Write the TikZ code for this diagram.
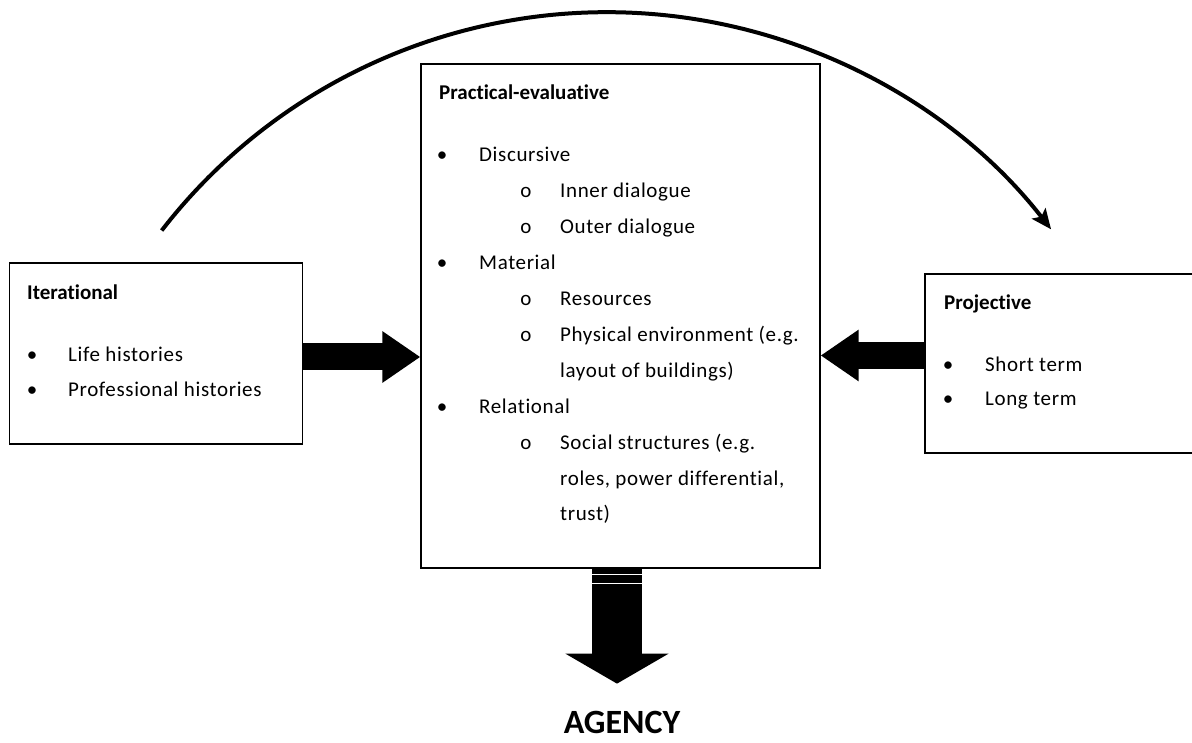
\documentclass[tikz,border=0pt]{standalone}
\usepackage{fontspec}
\setmainfont{Carlito}[Ligatures=NoCommon, LetterSpace=3, BoldFeatures={LetterSpace=0}]
\usetikzlibrary{arrows.meta}

\tikzset{
  panel/.style={draw, line width=1.3pt, inner sep=0pt},
  txt/.style={anchor=base west, inner sep=0pt, font=\fontsize{21}{25}\selectfont},
  head/.style={txt, font=\fontsize{21}{25}\selectfont\bfseries},
  dot/.style={anchor=base, inner sep=0pt, font=\fontsize{21}{25}\selectfont},
  fatarrow/.style={line width=27pt, -{Triangle[length=38pt 0 0, width=49pt 0 0]}},
}

\begin{document}
\begin{tikzpicture}[x=1pt, y=1pt]
  \useasboundingbox (0,0) rectangle (1192,742);
  % the three boxes
  \node[panel, minimum width=293pt, minimum height=181pt] (iter) at (156,388.5) {};
  \node[panel, minimum width=399pt, minimum height=504pt] (prac) at (620.5,426) {};
  \node[panel, minimum width=272pt, minimum height=179pt] (proj) at (1061,378.5) {};
  % left box
  \node[head] (iterhd) at (27,442) {Iterational};
  \node[dot] (itera) at (32,380) {•};
  \node[txt] (iterb) at (68,380) {Life histories};
  \node[dot] (iterc) at (32,345) {•};
  \node[txt] (iterd) at (68,345) {Professional histories};
  % middle box
  \node[head] (prachd) at (439,642) {Practical-evaluative};
  \node[dot] (disc) at (442,580) {•};
  \node[txt] at (479,580) {Discursive};
  \node[dot] (inner) at (526,544.5) {o};
  \node[txt] at (560,544.5) {Inner dialogue};
  \node[dot] (outer) at (526,508) {o};
  \node[txt] at (560,508) {Outer dialogue};
  \node[dot] (mat) at (442,472) {•};
  \node[txt] at (479,472) {Material};
  \node[dot] (res) at (526,436) {o};
  \node[txt] at (560,436) {Resources};
  \node[dot] (phys) at (526,400) {o};
  \node[txt] at (560,400) {Physical environment (e.g.};
  \node[txt] (physb) at (560,364) {layout of buildings)};
  \node[dot] (rel) at (442,328) {•};
  \node[txt] at (479,328) {Relational};
  \node[dot] (soc) at (526,292) {o};
  \node[txt] at (560,292) {Social structures (e.g.};
  \node[txt] (socb) at (560,256.5) {roles, power differential,};
  \node[txt] (socc) at (560,221) {trust)};
  % right box
  \node[head] (projhd) at (944,432) {Projective};
  \node[dot] (proja) at (948,370) {•};
  \node[txt] (projb) at (985,370) {Short term};
  \node[dot] (projc) at (948,336) {•};
  \node[txt] (projd) at (985,336) {Long term};
  % block arrows
  \draw[fatarrow] ([yshift=-3.5pt]iter.east) -- ([yshift=-3.5pt]iter.east -| prac.west);
  \draw[fatarrow] ([yshift=8pt]proj.west) -- ([yshift=8pt]proj.west -| prac.east);
  \draw[line width=50pt, -{Triangle[length=30pt 0 0, width=102pt 0 0]}]
    ([xshift=-3.5pt]prac.south) -- ++(0,-115);
  \draw[white, line width=1.5pt] ([xshift=-28.5pt, yshift=-6pt]prac.south) -- ++(50,0);
  \draw[white, line width=1.5pt] ([xshift=-28.5pt, yshift=-15pt]prac.south) -- ++(50,0);
  \node[font=\fontsize{34}{38}\selectfont\bfseries, inner sep=0pt, anchor=base] (agency) at (622,9) {AGENCY};
  % arc over the top
  \coordinate (arcstart) at (161.7,511.5);
  \draw[line width=4pt, -{Stealth[length=20pt 0 0, width=17pt 0 0, inset=4pt]}]
    (arcstart) arc[start angle=142.25, end angle=37.9, radius=563];
\end{tikzpicture}
\end{document}
